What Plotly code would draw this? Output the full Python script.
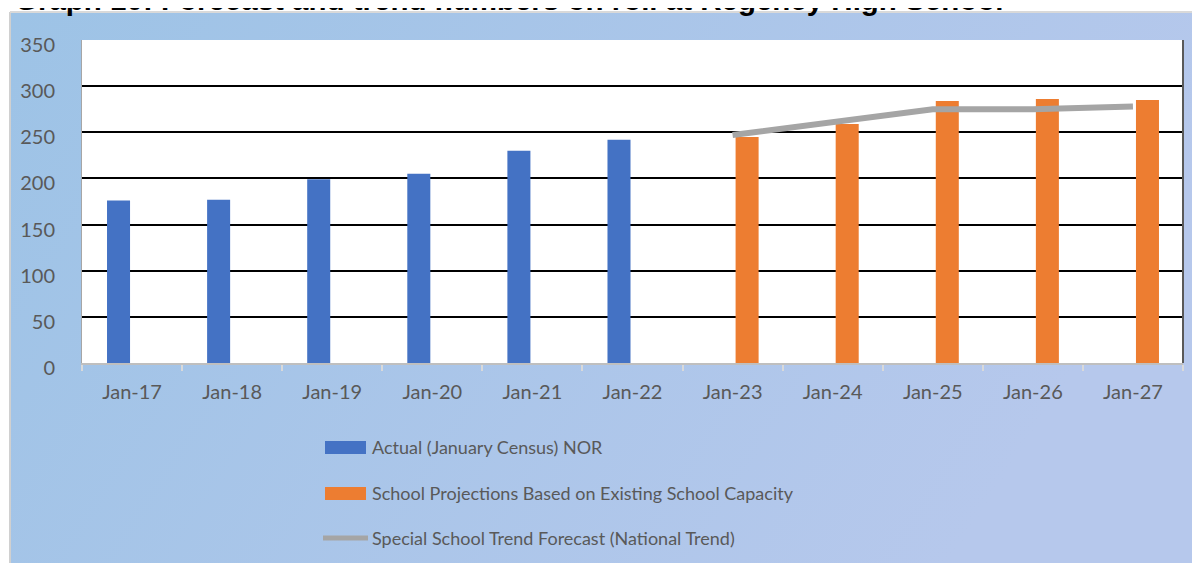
import base64
import plotly.graph_objects as go

# ---- data ----
categories = ["Jan-17", "Jan-18", "Jan-19", "Jan-20", "Jan-21", "Jan-22",
              "Jan-23", "Jan-24", "Jan-25", "Jan-26", "Jan-27"]
actual_cats = ["Jan-17", "Jan-18", "Jan-19", "Jan-20", "Jan-21", "Jan-22"]
actual_vals = [176, 177, 199, 205, 230, 242]
proj_cats = ["Jan-23", "Jan-24", "Jan-25", "Jan-26", "Jan-27"]
proj_vals = [245, 259, 284, 286, 285]
trend_cats = ["Jan-23", "Jan-24", "Jan-25", "Jan-26", "Jan-27"]
trend_vals = [247, 261, 275, 275, 278]
y_ticks = [0, 50, 100, 150, 200, 250, 300, 350]

names = ["Actual (January Census) NOR",
         "School Projections Based on Existing School Capacity",
         "Special School Trend Forecast (National Trend)"]
title_text = "Graph 10: Forecast and trend numbers on roll at Regency High School"

# ---- geometry helpers (reference pixel -> paper) ----
OFF = 8  # default page body margin
WIN_W, WIN_H = 1200, 563
W, H = WIN_W - OFF, WIN_H - OFF
L, R, T, B = 82, 1183, 40, 363          # plot area in window pixels
ML, MR, MT, MB = L - OFF, WIN_W - R, T - OFF, WIN_H - B
PW, PH = R - L, B - T


def px(x):
    return (x - L) / PW


def py(y):
    return (B - y) / PH


FONT = "Lato"
GREY_TXT = "#595959"

fig = go.Figure()
fig.add_trace(go.Bar(x=actual_cats, y=actual_vals, name=names[0],
                     marker=dict(color="#4472C4", line=dict(width=0)),
                     width=0.23, offset=-0.25, showlegend=False))
fig.add_trace(go.Bar(x=proj_cats, y=proj_vals, name=names[1],
                     marker=dict(color="#ED7D31", line=dict(width=0)),
                     width=0.23, offset=0.03, showlegend=False))
fig.add_trace(go.Scatter(x=trend_cats, y=trend_vals, name=names[2], mode="lines",
                         line=dict(color="#A5A5A5", width=6), showlegend=False))

# gradient background as svg image
svg = ('<svg xmlns="http://www.w3.org/2000/svg" width="1189" height="550">'
       '<defs><linearGradient id="g" x1="0" y1="0" x2="1" y2="0.3">'
       '<stop offset="0" stop-color="#9DC3E6"/><stop offset="1" stop-color="#B6C8EC"/>'
       '</linearGradient></defs><rect width="1189" height="550" fill="url(#g)"/></svg>')
src = "data:image/svg+xml;base64," + base64.b64encode(svg.encode()).decode()

bg_x0, bg_y0 = 11, 13
fig.add_layout_image(dict(source=src, xref="paper", yref="paper",
                          x=px(bg_x0), y=py(bg_y0),
                          sizex=(WIN_W - bg_x0) / PW, sizey=(WIN_H - bg_y0) / PH,
                          xanchor="left", yanchor="top", sizing="stretch",
                          layer="below"))

shapes = [
    # white plot area
    dict(type="rect", xref="paper", yref="paper", x0=0, x1=1, y0=0, y1=1,
         fillcolor="white", line=dict(width=0), layer="below"),
    # grey frame lines of chart area (left / top)
    dict(type="line", xref="paper", yref="paper", x0=px(10), x1=px(10), y0=py(12), y1=py(WIN_H),
         line=dict(color="#D0D0D0", width=2)),
    dict(type="line", xref="paper", yref="paper", x0=px(10), x1=px(WIN_W), y0=py(12), y1=py(12),
         line=dict(color="#D9D9D9", width=2)),
    # right border of plot area
    dict(type="line", xref="paper", yref="paper", x0=1, x1=1, y0=0, y1=1,
         line=dict(color="#595959", width=2)),
]

# manual legend
leg_x0, leg_x1 = 325, 366
rows = [447, 493, 538]
shapes.append(dict(type="rect", xref="paper", yref="paper", x0=px(leg_x0), x1=px(leg_x1),
                   y0=py(rows[0] + 7), y1=py(rows[0] - 6), fillcolor="#4472C4", line=dict(width=0)))
shapes.append(dict(type="rect", xref="paper", yref="paper", x0=px(leg_x0), x1=px(leg_x1),
                   y0=py(rows[1] + 7), y1=py(rows[1] - 6), fillcolor="#ED7D31", line=dict(width=0)))
shapes.append(dict(type="line", xref="paper", yref="paper", x0=px(323), x1=px(368),
                   y0=py(rows[2]), y1=py(rows[2]), line=dict(color="#A5A5A5", width=5)))

annotations = []
for name, ry in zip(names, rows):
    annotations.append(dict(text=name, xref="paper", yref="paper", x=px(370), y=py(ry),
                            xanchor="left", yanchor="middle", showarrow=False,
                            font=dict(family=FONT, size=18, color=GREY_TXT)))
annotations.append(dict(text="<b>" + title_text + "</b>", xref="paper", yref="paper",
                        x=px(13), y=py(-19), xanchor="left", yanchor="top", showarrow=False,
                        font=dict(family="Liberation Sans", size=29.5, color="black")))

fig.update_layout(
    width=W, height=H,
    margin=dict(l=ML, r=MR, t=MT, b=MB, pad=0),
    paper_bgcolor="white",
    plot_bgcolor="rgba(0,0,0,0)",
    barmode="overlay",
    shapes=shapes,
    annotations=annotations,
    showlegend=False,
    font=dict(family=FONT, color=GREY_TXT),
    xaxis=dict(type="category", categoryorder="array", categoryarray=categories,
               range=[-0.5, 10.5], showgrid=False, zeroline=False,
               showline=True, linecolor="#BFBFBF", linewidth=2,
               ticks="outside", tickson="boundaries", ticklen=6, tickwidth=2,
               tickcolor="#D9D9D9", ticklabelstandoff=10,
               tickfont=dict(family=FONT, size=20, color=GREY_TXT)),
    yaxis=dict(range=[0, 350], tickvals=y_ticks, showgrid=True, gridcolor="black",
               gridwidth=2, zeroline=False, showline=True, linecolor="#A6A6A6",
               linewidth=1, ticks="", ticklabelstandoff=22, ticklabelshift=5,
               tickfont=dict(family=FONT, size=20, color=GREY_TXT)),
)

fig.write_html("out.html")
